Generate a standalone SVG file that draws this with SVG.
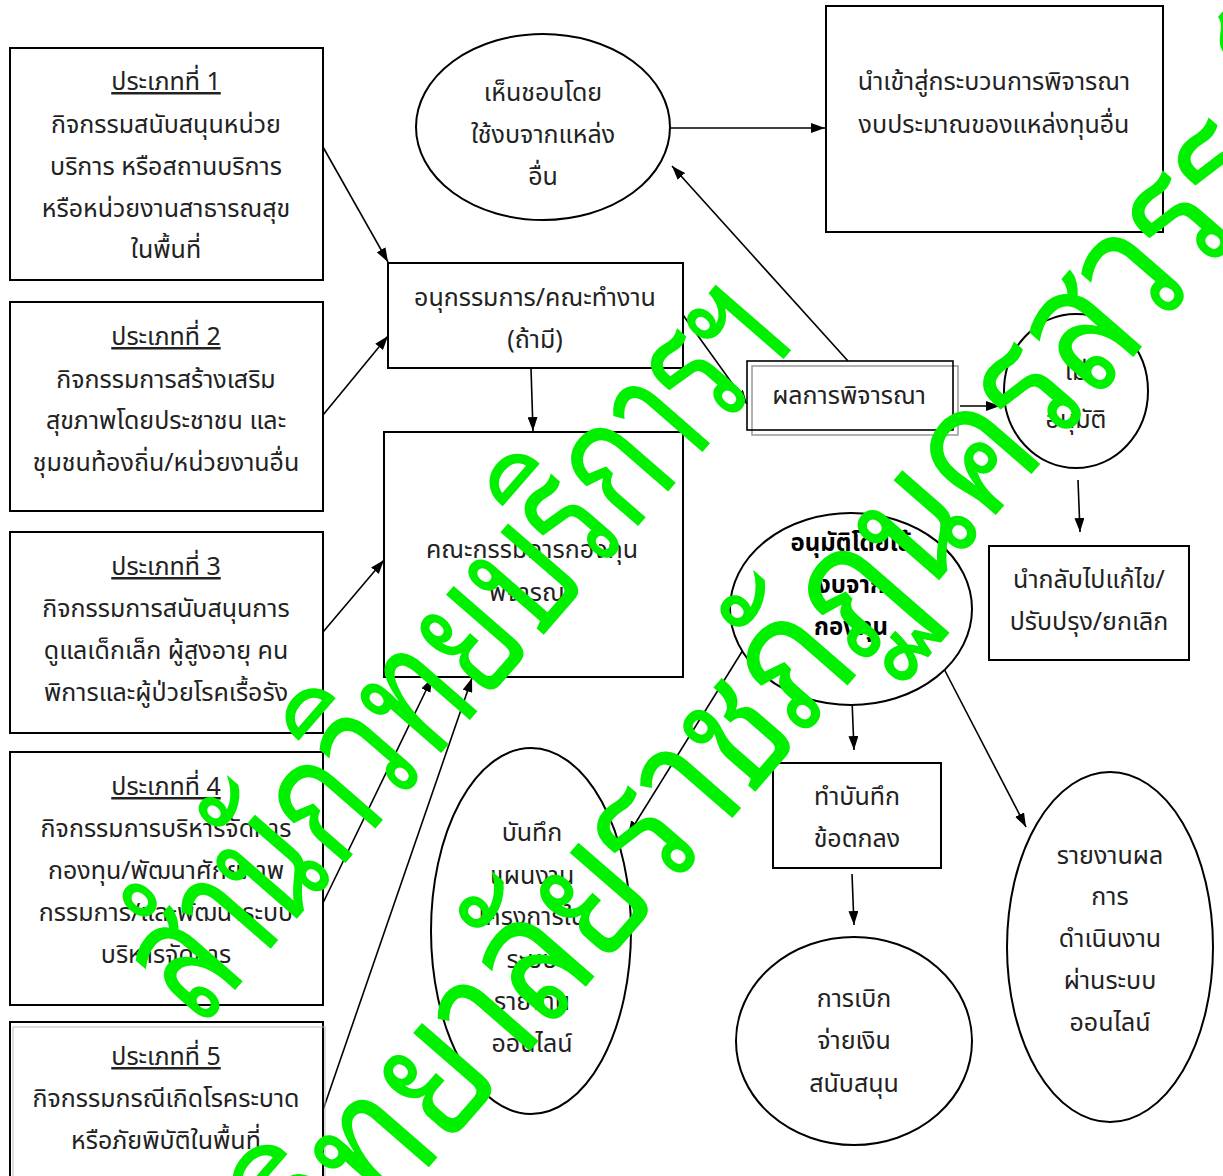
<svg xmlns="http://www.w3.org/2000/svg" width="1223" height="1176" viewBox="0 0 1223 1176">
<style>
.b{fill:#fff;stroke:#000;stroke-width:2}
.t{font-family:"Noto Sans Thai","Noto Sans Thai Looped","Noto Sans",sans-serif;font-size:25px;fill:#222;text-anchor:middle}
.u{text-decoration:underline}
.bd{font-weight:bold;fill:#000;font-size:24px}
.c{stroke:#000;stroke-width:1.6;fill:none;marker-end:url(#ah)}
.wm{font-family:"Noto Sans Thai Looped","Noto Sans Thai","Noto Sans",sans-serif;font-size:180px;fill:#00f000;font-weight:normal}
</style>
<defs>
<marker id="ah" viewBox="0 0 14 10" refX="14" refY="5" markerWidth="14" markerHeight="10" markerUnits="userSpaceOnUse" orient="auto">
<path d="M0,0 L14,5 L0,10 Z" fill="#000"/>
</marker>
</defs>
<rect width="1223" height="1176" fill="#fff"/>
<g id="connectors">
<line class="c" x1="323" y1="147" x2="388" y2="262"/>
<line class="c" x1="323" y1="415" x2="388" y2="336"/>
<line class="c" x1="323" y1="632" x2="384" y2="560"/>
<line class="c" x1="323" y1="903" x2="432" y2="678"/>
<line class="c" x1="323" y1="1110" x2="472" y2="678"/>
<line class="c" x1="670" y1="128" x2="825" y2="128"/>
<line class="c" x1="531" y1="368" x2="533" y2="431"/>
<line class="c" x1="683" y1="315" x2="747" y2="404"/>
<line class="c" x1="848" y1="361" x2="672" y2="166"/>
<line class="c" x1="960" y1="406" x2="1000" y2="406"/>
<line class="c" x1="1078" y1="480" x2="1080" y2="532"/>
<line class="c" x1="743" y1="650" x2="628" y2="835"/>
<line class="c" x1="852" y1="700" x2="854" y2="750"/>
<line class="c" x1="942" y1="665" x2="1026" y2="827"/>
<line class="c" x1="852" y1="874" x2="854" y2="925"/>
</g>
<g id="n1"><rect class="b" x="10" y="48" width="313" height="232"/>
<text class="t u" x="166" y="90">ประเภทที่ 1</text>
<text class="t" x="166" y="133">กิจกรรมสนับสนุนหน่วย</text>
<text class="t" x="166" y="175">บริการ หรือสถานบริการ</text>
<text class="t" x="166" y="217">หรือหน่วยงานสาธารณสุข</text>
<text class="t" x="166" y="258">ในพื้นที่</text></g>
<g id="n2"><rect class="b" x="10" y="302" width="313" height="209"/>
<text class="t u" x="166" y="345">ประเภทที่ 2</text>
<text class="t" x="166" y="388">กิจกรรมการสร้างเสริม</text>
<text class="t" x="166" y="429">สุขภาพโดยประชาชน และ</text>
<text class="t" x="166" y="471">ชุมชนท้องถิ่น/หน่วยงานอื่น</text></g>
<g id="n3"><rect class="b" x="10" y="532" width="313" height="201"/>
<text class="t u" x="166" y="575">ประเภทที่ 3</text>
<text class="t" x="166" y="617">กิจกรรมการสนับสนุนการ</text>
<text class="t" x="166" y="659">ดูแลเด็กเล็ก ผู้สูงอายุ คน</text>
<text class="t" x="166" y="701">พิการและผู้ป่วยโรคเรื้อรัง</text></g>
<g id="n4"><rect class="b" x="10" y="752" width="313" height="253"/>
<text class="t u" x="166" y="795">ประเภทที่ 4</text>
<text class="t" x="166" y="837">กิจกรรมการบริหารจัดการ</text>
<text class="t" x="166" y="879">กองทุน/พัฒนาศักยภาพ</text>
<text class="t" x="166" y="921">กรรมการ/และพัฒนาระบบ</text>
<text class="t" x="166" y="963">บริหารจัดการ</text></g>
<g id="n5"><rect class="b" x="10" y="1022" width="313" height="160"/>
<rect x="13" y="1027" width="312" height="150" fill="none" stroke="#bbb" stroke-width="1"/>
<text class="t u" x="166" y="1065">ประเภทที่ 5</text>
<text class="t" x="166" y="1107">กิจกรรมกรณีเกิดโรคระบาด</text>
<text class="t" x="166" y="1149">หรือภัยพิบัติในพื้นที่</text></g>
<g id="n6"><ellipse class="b" cx="543" cy="127" rx="127" ry="93"/>
<text class="t" x="543" y="101">เห็นชอบโดย</text>
<text class="t" x="543" y="143">ใช้งบจากแหล่ง</text>
<text class="t" x="543" y="185">อื่น</text></g>
<g id="n7"><rect class="b" x="826" y="6" width="337" height="226"/>
<text class="t" x="994" y="90">นำเข้าสู่กระบวนการพิจารณา</text>
<text class="t" x="994" y="133">งบประมาณของแหล่งทุนอื่น</text></g>
<g id="n8"><rect class="b" x="388" y="263" width="295" height="105"/>
<text class="t" x="535" y="306">อนุกรรมการ/คณะทำงาน</text>
<text class="t" x="535" y="348">(ถ้ามี)</text></g>
<g id="n9"><rect class="b" x="384" y="432" width="299" height="245"/>
<text class="t" x="532" y="558">คณะกรรมการกองทุน</text>
<text class="t" x="532" y="601">พิจารณา</text></g>
<g id="n10"><rect x="752" y="366" width="206" height="69" fill="#fff" stroke="#999" stroke-width="1.5"/>
<rect x="747" y="361" width="206" height="69" fill="none" stroke="#000" stroke-width="1.6"/>
<text class="t" x="849" y="404">ผลการพิจารณา</text></g>
<g id="n11"><ellipse class="b" cx="1076" cy="391" rx="72" ry="77"/>
<text class="t" x="1076" y="380">ไม่</text>
<text class="t" x="1076" y="428">อนุมัติ</text></g>
<g id="n12"><rect class="b" x="989" y="546" width="200" height="114"/>
<text class="t" x="1089" y="588">นำกลับไปแก้ไข/</text>
<text class="t" x="1089" y="630">ปรับปรุง/ยกเลิก</text></g>
<g id="n13"><ellipse class="b" cx="851" cy="609" rx="121" ry="96"/>
<text class="t bd" x="851" y="551">อนุมัติโดยใช้</text>
<text class="t bd" x="851" y="593">งบจาก</text>
<text class="t bd" x="851" y="635">กองทุน</text></g>
<g id="n14"><ellipse class="b" cx="531" cy="931" rx="100" ry="183"/>
<text class="t" x="532" y="841">บันทึก</text>
<text class="t" x="532" y="884">แผนงาน</text>
<text class="t" x="532" y="925">โครงการใน</text>
<text class="t" x="532" y="968">ระบบ</text>
<text class="t" x="532" y="1010">รายงาน</text>
<text class="t" x="532" y="1052">ออนไลน์</text></g>
<g id="n15"><rect class="b" x="773" y="763" width="168" height="105"/>
<text class="t" x="857" y="805">ทำบันทึก</text>
<text class="t" x="857" y="847">ข้อตกลง</text></g>
<g id="n16"><ellipse class="b" cx="854" cy="1041" rx="118" ry="104"/>
<text class="t" x="854" y="1007">การเบิก</text>
<text class="t" x="854" y="1049">จ่ายเงิน</text>
<text class="t" x="854" y="1092">สนับสนุน</text></g>
<g id="n17"><ellipse class="b" cx="1110" cy="947" rx="103" ry="175"/>
<text class="t" x="1110" y="864">รายงานผล</text>
<text class="t" x="1110" y="905">การ</text>
<text class="t" x="1110" y="947">ดำเนินงาน</text>
<text class="t" x="1110" y="989">ผ่านระบบ</text>
<text class="t" x="1110" y="1031">ออนไลน์</text></g>
<g id="watermark">
<text class="wm" text-anchor="middle" transform="translate(500,685) rotate(-49)" textLength="910" lengthAdjust="spacingAndGlyphs">สำนักวิทยบริการฯ</text>
<text class="wm" text-anchor="start" transform="translate(170,1465) rotate(-49)" textLength="1800" lengthAdjust="spacingAndGlyphs">มหาวิทยาลัยราชภัฏนครสวรรค์</text>
</g>
</svg>
